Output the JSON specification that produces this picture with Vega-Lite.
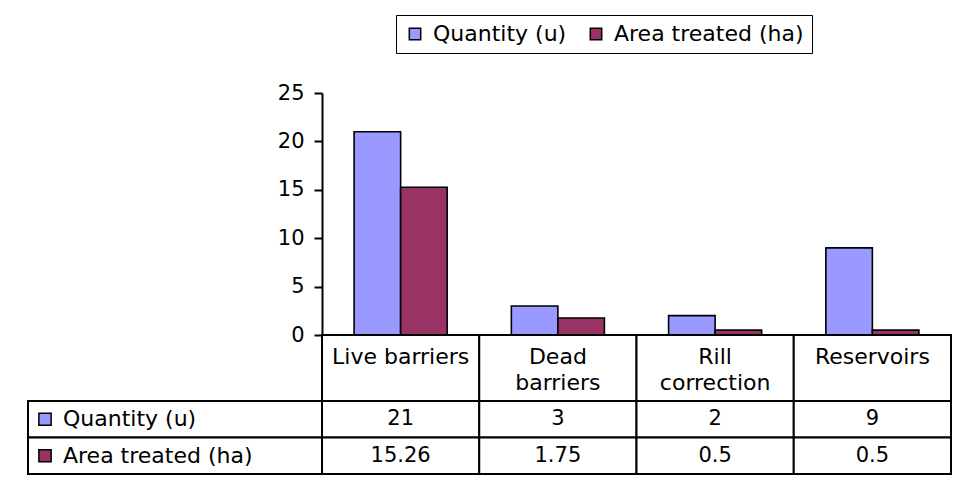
{
  "$schema": "https://vega.github.io/schema/vega-lite/v6.json",
  "padding": {"left": 27, "top": 14, "right": 0, "bottom": 0},
  "background": "white",
  "config": {"view": {"stroke": null}, "font": "DejaVu Sans"},
  "datasets": {
    "bars": [
      {"category": "Live barriers", "series": "Quantity (u)", "value": 21},
      {"category": "Live barriers", "series": "Area treated (ha)", "value": 15.26},
      {"category": "Dead barriers", "series": "Quantity (u)", "value": 3},
      {"category": "Dead barriers", "series": "Area treated (ha)", "value": 1.75},
      {"category": "Rill correction", "series": "Quantity (u)", "value": 2},
      {"category": "Rill correction", "series": "Area treated (ha)", "value": 0.5},
      {"category": "Reservoirs", "series": "Quantity (u)", "value": 9},
      {"category": "Reservoirs", "series": "Area treated (ha)", "value": 0.5}
    ],
    "cats": [
      {"category": "Live barriers", "label": "Live barriers"},
      {"category": "Dead barriers", "label": "Dead\nbarriers"},
      {"category": "Rill correction", "label": "Rill\ncorrection"},
      {"category": "Reservoirs", "label": "Reservoirs"}
    ],
    "rows": [
      {"series": "Quantity (u)"},
      {"series": "Area treated (ha)"}
    ]
  },
  "columns": 2,
  "spacing": 0,
  "bounds": "flush",
  "concat": [
    {
      "width": 294, "height": 242,
      "data": {"values": [{}]},
      "mark": {"type": "text", "text": ""}
    },
    {
      "width": 629, "height": 242,
      "data": {"name": "bars"},
      "mark": {"type": "bar", "stroke": "black", "strokeWidth": 1.6},
      "encoding": {
        "x": {"field": "category", "type": "nominal", "sort": ["Live barriers", "Dead barriers", "Rill correction", "Reservoirs"], "scale": {"paddingInner": 0, "paddingOuter": 0}, "axis": {"labels": false, "ticks": false, "title": null, "domainColor": "black", "domainWidth": 2}},
        "xOffset": {"field": "series", "type": "nominal", "sort": ["Quantity (u)", "Area treated (ha)"], "scale": {"paddingInner": 0, "paddingOuter": 0.69}},
        "y": {"field": "value", "type": "quantitative", "scale": {"domain": [0, 25], "nice": false}, "axis": {"values": [0, 5, 10, 15, 20, 25], "grid": false, "title": null, "domainColor": "black", "domainWidth": 2, "tickColor": "black", "tickWidth": 2, "tickSize": 8, "labelFontSize": 21, "labelColor": "black", "labelPadding": 10, "labelFont": "DejaVu Sans"}},
        "color": {"field": "series", "type": "nominal", "sort": ["Quantity (u)", "Area treated (ha)"], "scale": {"domain": ["Quantity (u)", "Area treated (ha)"], "range": ["#9999FF", "#993366"]},
          "legend": {"title": null, "orient": "none", "legendX": 368, "legendY": -78, "direction": "horizontal", "strokeColor": "black", "padding": 8, "symbolType": "square", "symbolSize": 130, "symbolStrokeColor": "black", "symbolStrokeWidth": 1.5, "symbolOpacity": 1, "labelFontSize": 22, "labelFont": "DejaVu Sans", "labelColor": "black", "labelOffset": 7, "columnPadding": 18, "labelLimit": 400}}
      }
    },
    {
      "width": 294, "height": 66,
      "data": {"values": [{}]},
      "mark": {"type": "text", "text": ""}
    },
    {
      "width": 629, "height": 66,
      "data": {"name": "cats"},
      "encoding": {
        "x": {"field": "category", "type": "nominal", "sort": ["Live barriers", "Dead barriers", "Rill correction", "Reservoirs"], "scale": {"paddingInner": 0, "paddingOuter": 0}, "axis": null}
      },
      "layer": [
        {"mark": {"type": "rect", "fill": "white", "stroke": "black", "strokeWidth": 2}},
        {"mark": {"type": "text", "baseline": "top", "dy": -21, "fontSize": 22, "lineBreak": "\n", "lineHeight": 26, "color": "black"}, "encoding": {"text": {"field": "label"}}}
      ]
    },
    {
      "width": 294, "height": 73,
      "data": {"name": "rows"},
      "encoding": {
        "y": {"field": "series", "type": "nominal", "sort": ["Quantity (u)", "Area treated (ha)"], "scale": {"paddingInner": 0, "paddingOuter": 0}, "axis": null}
      },
      "layer": [
        {"mark": {"type": "rect", "fill": "white", "stroke": "black", "strokeWidth": 2}},
        {"mark": {"type": "point", "shape": "square", "filled": true, "size": 150, "stroke": "black", "strokeWidth": 1.5, "opacity": 1}, "encoding": {"x": {"value": 17}, "fill": {"field": "series", "type": "nominal", "scale": {"domain": ["Quantity (u)", "Area treated (ha)"], "range": ["#9999FF", "#993366"]}, "legend": null}}},
        {"mark": {"type": "text", "align": "left", "fontSize": 22, "color": "black"}, "encoding": {"x": {"value": 35}, "text": {"field": "series"}}}
      ]
    },
    {
      "width": 629, "height": 73,
      "data": {"name": "bars"},
      "encoding": {
        "x": {"field": "category", "type": "nominal", "sort": ["Live barriers", "Dead barriers", "Rill correction", "Reservoirs"], "scale": {"paddingInner": 0, "paddingOuter": 0}, "axis": null},
        "y": {"field": "series", "type": "nominal", "sort": ["Quantity (u)", "Area treated (ha)"], "scale": {"paddingInner": 0, "paddingOuter": 0}, "axis": null}
      },
      "layer": [
        {"mark": {"type": "rect", "fill": "white", "stroke": "black", "strokeWidth": 2}},
        {"mark": {"type": "text", "fontSize": 21, "color": "black"}, "encoding": {"text": {"field": "value", "type": "nominal"}}}
      ]
    }
  ]
}
